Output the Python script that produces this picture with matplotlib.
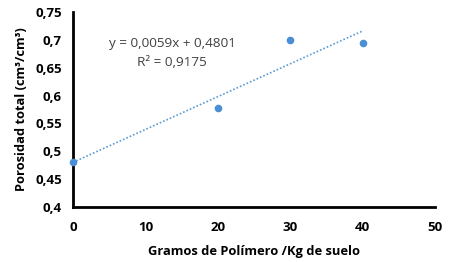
import numpy as np
import matplotlib
matplotlib.use("Agg")
import matplotlib.pyplot as plt

# data
gramos = [0, 20, 30, 40]
porosidad = [0.480, 0.578, 0.699, 0.694]
x_ticks = [0, 10, 20, 30, 40, 50]
y_ticks = [0.4, 0.45, 0.5, 0.55, 0.6, 0.65, 0.7, 0.75]
slope, intercept = 0.0059, 0.4801

plt.rcParams["font.family"] = ["Open Sans", "DejaVu Sans"]

fig = plt.figure(figsize=(4.5, 2.62), dpi=100)
ax = fig.add_axes([0.162, 0.21, 0.805, 0.744])

xs = np.array([0, 40])
ax.plot(xs, slope * xs + intercept, color="#5b9bd5", lw=1.2, ls=(0, (1, 1.2)))
ax.scatter(gramos, porosidad, s=20, color="#4a8fd6", zorder=3, clip_on=False)

ax.set_xlim(0, 50)
ax.set_ylim(0.4, 0.75)
ax.set_xticks(x_ticks)
ax.set_yticks(y_ticks)
ax.set_xticklabels([str(v) for v in x_ticks])
ax.set_yticklabels([f"{v:g}".replace(".", ",") for v in y_ticks])
ax.tick_params(length=0, labelsize=9.5, pad=10)
ax.tick_params(axis="y", pad=8)
for lab in ax.get_xticklabels() + ax.get_yticklabels():
    lab.set_fontweight("bold")

for side in ("top", "right"):
    ax.spines[side].set_visible(False)
for side in ("left", "bottom"):
    ax.spines[side].set_linewidth(2)
    ax.spines[side].set_color("black")

ax.set_xlabel("Gramos de Polímero /Kg de suelo", fontsize=9.3, fontweight="bold", labelpad=8)
ax.set_ylabel("Porosidad total (cm³/cm³)", fontsize=9.3, fontweight="bold", labelpad=5)

ax.text(13.7, 0.693, "y = 0,0059x + 0,4801", fontsize=9.7, color="#404040",
        ha="center", va="center")
ax.text(13.7, 0.659, "R² = 0,9175", fontsize=9.7, color="#404040",
        ha="center", va="center")

fig.savefig("out.png", dpi=100)
